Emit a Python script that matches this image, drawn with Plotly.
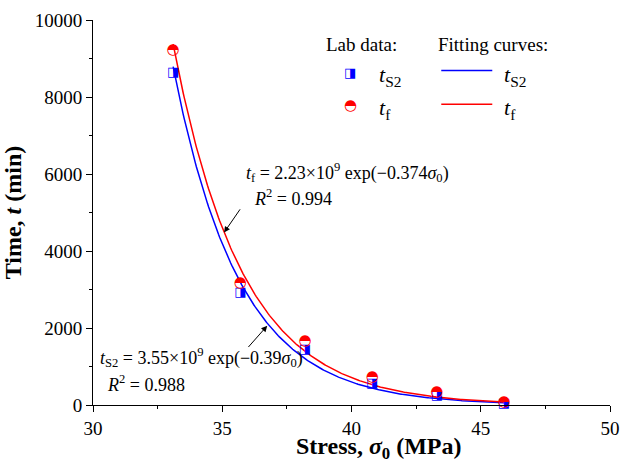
import numpy as np
import plotly.graph_objects as go

# Lab data
stress = [33.1, 35.7, 38.2, 40.8, 43.3, 45.9]
t_s2 = [8620, 2910, 1430, 560, 250, 45]
t_f = [9220, 3150, 1650, 710, 320, 60]

# Fitting parameters: t = A * exp(-k * sigma0)
fit_s2 = dict(A=3.55e9, k=0.39, r2=0.988)
fit_f = dict(A=2.23e9, k=0.374, r2=0.994)

x_ticks = [30, 35, 40, 45, 50]
y_ticks = [0, 2000, 4000, 6000, 8000, 10000]

SERIF = "Liberation Serif"
BLUE = "#0000FF"
RED = "#FF0000"

xs = np.linspace(min(stress), max(stress), 300)
ys2 = fit_s2["A"] * np.exp(-fit_s2["k"] * xs)
yf = fit_f["A"] * np.exp(-fit_f["k"] * xs)

fig = go.Figure()
fig.add_trace(go.Scatter(x=xs, y=ys2, mode="lines", line=dict(color=BLUE, width=1.5),
                         showlegend=False, hoverinfo="skip"))
fig.add_trace(go.Scatter(x=xs, y=yf, mode="lines", line=dict(color=RED, width=1.5),
                         showlegend=False, hoverinfo="skip"))
fig.add_trace(go.Scatter(x=stress, y=t_s2, mode="text", text=["◨"] * len(stress),
                         textfont=dict(family="DejaVu Sans", size=13, color=BLUE),
                         textposition="middle center", showlegend=False, cliponaxis=False))
fig.add_trace(go.Scatter(x=stress, y=t_f, mode="text", text=["◓"] * len(stress),
                         textfont=dict(family="DejaVu Sans", size=15, color=RED),
                         textposition="middle center", showlegend=False, cliponaxis=False))

EQ = 18
ann = []
# Equation labels
ann.append(dict(x=35.85, y=6049, xref="x", yref="y", xanchor="left", yanchor="middle",
                text="<i>t</i><sub>f</sub> = 2.23×10<sup>9</sup> exp(−0.374<i>σ</i><sub>0</sub>)",
                showarrow=False, font=dict(family=SERIF, size=EQ, color="black")))
ann.append(dict(x=36.15, y=5380, xref="x", yref="y", xanchor="left", yanchor="middle",
                text="<i>R</i><sup>2</sup> = %.3f" % fit_f["r2"],
                showarrow=False, font=dict(family=SERIF, size=EQ, color="black")))
ann.append(dict(x=30.2, y=1236, xref="x", yref="y", xanchor="left", yanchor="middle",
                text="<i>t</i><sub>S2</sub> = 3.55×10<sup>9</sup> exp(−0.39<i>σ</i><sub>0</sub>)",
                showarrow=False, font=dict(family=SERIF, size=EQ, color="black")))
ann.append(dict(x=30.45, y=566, xref="x", yref="y", xanchor="left", yanchor="middle",
                text="<i>R</i><sup>2</sup> = %.3f" % fit_s2["r2"],
                showarrow=False, font=dict(family=SERIF, size=EQ, color="black")))
# Arrows
ann.append(dict(x=35.07, y=4479, ax=35.73, ay=5122, xref="x", yref="y", axref="x", ayref="y",
                text="", showarrow=True, arrowhead=2, arrowsize=1.2, arrowwidth=1, arrowcolor="black"))
ann.append(dict(x=36.74, y=2059, ax=35.96, ay=1467, xref="x", yref="y", axref="x", ayref="y",
                text="", showarrow=True, arrowhead=2, arrowsize=1.2, arrowwidth=1, arrowcolor="black"))

# Manual legend (pixel positions converted to paper coords)
L, R_, T, B = 93, 620, 16, 405
def px(xp): return (xp - L) / (R_ - L)
def py(yp): return (B - yp) / (B - T)

ann.append(dict(x=px(328), y=py(41), xref="paper", yref="paper", xanchor="left", yanchor="middle",
                text="Lab data:", showarrow=False, font=dict(family=SERIF, size=19, color="black")))
ann.append(dict(x=px(443), y=py(41), xref="paper", yref="paper", xanchor="left", yanchor="middle",
                text="Fitting curves:", showarrow=False, font=dict(family=SERIF, size=19, color="black")))
ann.append(dict(x=px(355), y=py(69), xref="paper", yref="paper", xanchor="center", yanchor="middle",
                text="◨", showarrow=False, font=dict(family="DejaVu Sans", size=13, color=BLUE)))
ann.append(dict(x=px(355), y=py(102), xref="paper", yref="paper", xanchor="center", yanchor="middle",
                text="◓", showarrow=False, font=dict(family="DejaVu Sans", size=15, color=RED)))
for xl in (383, 510):
    ann.append(dict(x=px(xl), y=py(73), xref="paper", yref="paper", xanchor="left", yanchor="middle",
                    text="<i>t</i><sub>S2</sub>", showarrow=False,
                    font=dict(family=SERIF, size=22, color="black")))
    ann.append(dict(x=px(xl), y=py(106), xref="paper", yref="paper", xanchor="left", yanchor="middle",
                    text="<i>t</i><sub>f</sub>", showarrow=False,
                    font=dict(family=SERIF, size=22, color="black")))

# X-axis title (placed to match reference offset)
ann.append(dict(x=px(385), y=py(448), xref="paper", yref="paper", xanchor="center", yanchor="middle",
                text="<b>Stress, <i>σ</i><sub>0</sub> (MPa)</b>", showarrow=False,
                font=dict(family=SERIF, size=24, color="black")))

shapes = [
    dict(type="line", xref="paper", yref="paper", x0=px(448), x1=px(500), y0=py(67), y1=py(67),
         line=dict(color=BLUE, width=1.5)),
    dict(type="line", xref="paper", yref="paper", x0=px(448), x1=px(500), y0=py(101), y1=py(101),
         line=dict(color=RED, width=1.5)),
]

axis_common = dict(showline=True, linecolor="black", linewidth=1, mirror=False, showgrid=False,
                   zeroline=False, ticks="outside", ticklen=6, tickwidth=1, tickcolor="black",
                   tickfont=dict(family=SERIF, size=19, color="black"))

fig.update_layout(
    width=630, height=472,
    margin=dict(l=L, r=630 - R_, t=T, b=472 - B),
    paper_bgcolor="white", plot_bgcolor="white",
    xaxis=dict(range=[30, 50], tickvals=x_ticks, ticktext=[str(v) for v in x_ticks],
               minor=dict(ticks="outside", ticklen=3, tickcolor="black", dtick=2.5, tick0=30),
               **axis_common),
    yaxis=dict(range=[0, 10000], tickvals=y_ticks, ticktext=[str(v) for v in y_ticks],
               minor=dict(ticks="outside", ticklen=3, tickcolor="black", dtick=1000, tick0=0),
               title=dict(text="<b>Time, <i>t</i> (min)</b>",
                          font=dict(family=SERIF, size=24, color="black"), standoff=6),
               **axis_common),
    annotations=ann, shapes=shapes, showlegend=False,
)

fig.write_html("out.html")
